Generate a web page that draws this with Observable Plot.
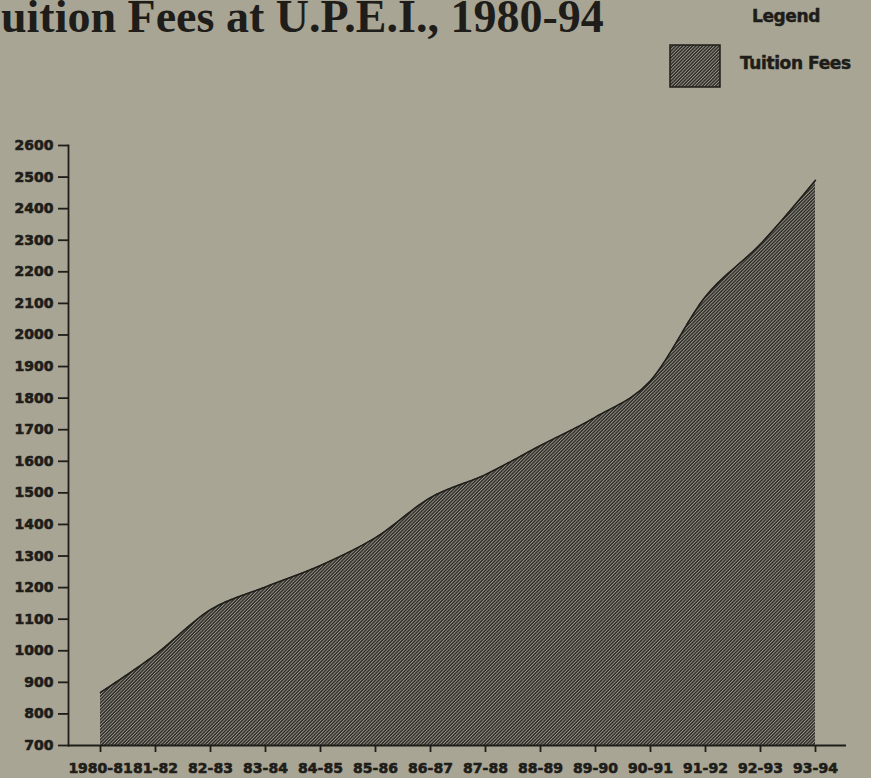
<!DOCTYPE html>
<html>
<head>
<meta charset="utf-8">
<script src="https://cdn.jsdelivr.net/npm/d3@7"></script>
<script src="https://cdn.jsdelivr.net/npm/@observablehq/plot@0.6"></script>
<style>
  html, body { margin: 0; padding: 0; background: #a9a595; }
  #wrap { position: relative; width: 871px; height: 778px; overflow: hidden; background: #a9a595; }
  #title { position: absolute; left: 1px; top: 0px; line-height: 34px; font-family: "Liberation Serif", serif; font-weight: bold; font-size: 46px; color: #1e1d19; white-space: nowrap; }
  #legendTitle { position: absolute; left: 752px; top: 6px; font-family: "DejaVu Sans", sans-serif; font-weight: bold; font-size: 17px; color: #1e1d19; letter-spacing: -0.4px; -webkit-text-stroke: 0.5px #1e1d19; }
  #legendBox { position: absolute; left: 669px; top: 44px; }
  #legendLabel { position: absolute; left: 740px; top: 53px; font-family: "DejaVu Sans", sans-serif; font-weight: bold; font-size: 17px; color: #1e1d19; letter-spacing: -0.4px; white-space: nowrap; -webkit-text-stroke: 0.5px #1e1d19; }
  #chart { position: absolute; left: 0; top: 0; }
  #chart svg text { stroke: #1e1d19; stroke-width: 0.6px; paint-order: stroke; }
</style>
</head>
<body>
<svg width="0" height="0" style="position:absolute">
  <defs>
    <pattern id="hatch" width="2.35" height="10" patternUnits="userSpaceOnUse" patternTransform="rotate(45)">
      <rect width="2.35" height="10" fill="#2a2924"></rect>
      <rect x="0" width="0.95" height="10" fill="#99968a"></rect>
    </pattern>
  </defs>
</svg>
<div id="wrap">
  <div id="chart"></div>
  <div id="title">uition Fees at U.P.E.I., 1980-94</div>
  <div id="legendTitle">Legend</div>
  <svg id="legendBox" width="53" height="45"><rect x="1" y="1" width="50" height="42" fill="url(#hatch)" stroke="#1e1d19" stroke-width="1.5"></rect></svg>
  <div id="legendLabel">Tuition Fees</div>
</div>
<script>
const years = ["1980-81","81-82","82-83","83-84","84-85","85-86","86-87","87-88","88-89","89-90","90-91","91-92","92-93","93-94"];
const fees = [868, 988, 1130, 1202, 1270, 1358, 1485, 1558, 1650, 1740, 1855, 2122, 2288, 2490];
const yTicks = [700,800,900,1000,1100,1200,1300,1400,1500,1600,1700,1800,1900,2000,2100,2200,2300,2400,2500,2600];
const baseValue = 700;

const data = years.map((year, i) => ({year, fee: fees[i]}));
const ink = "#1e1d19";

const chart = Plot.plot({
  width: 871,
  height: 778,
  marginLeft: 68,
  marginRight: 25,
  marginTop: 145,
  marginBottom: 33,
  style: {background: "transparent", fontFamily: "DejaVu Sans, sans-serif", fontWeight: "bold", fontSize: "14px", color: ink},
  x: {type: "point", domain: years, padding: 0.5},
  y: {domain: [700, 2600]},
  marks: [
    Plot.areaY(data, {x: "year", y1: baseValue, y2: "fee", curve: "monotone-x", fill: "url(#hatch)"}),
    Plot.lineY(data, {x: "year", y: "fee", curve: "monotone-x", stroke: ink, strokeWidth: 1.5}),
    Plot.axisY({ticks: yTicks, tickFormat: d => String(d), tickSize: 10, tickPadding: 5, stroke: ink, strokeWidth: 1.8, fill: ink, label: null, fontSize: 14, letterSpacing: -0.4}),
    Plot.axisX({tickSize: 7, tickPadding: 11, stroke: ink, strokeWidth: 1.8, fill: ink, label: null, fontSize: 14, letterSpacing: -0.4}),
    Plot.frame({anchor: "left", stroke: ink, strokeWidth: 1.8}),
    Plot.ruleY([baseValue], {stroke: ink, strokeWidth: 1.8})
  ]
});
document.getElementById("chart").appendChild(chart);
</script>
</body>
</html>
